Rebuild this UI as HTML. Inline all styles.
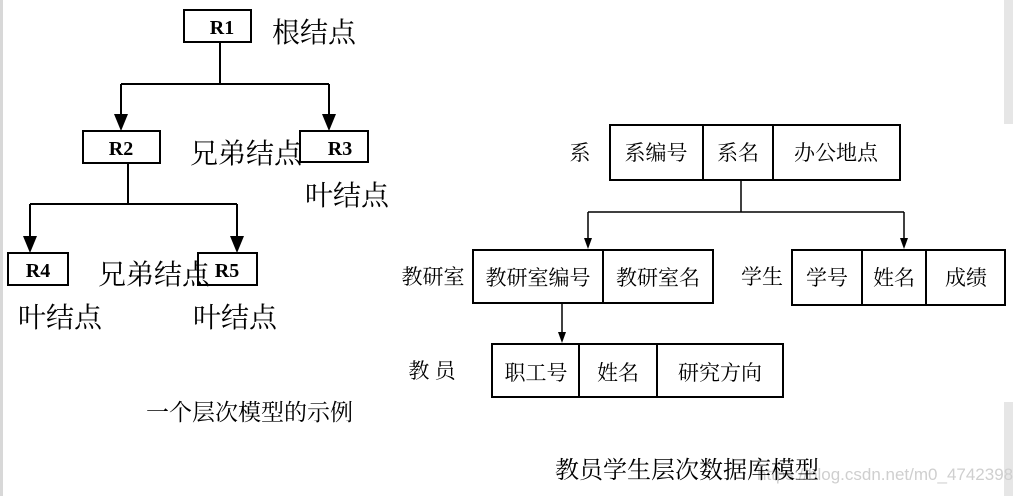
<!DOCTYPE html>
<html><head><meta charset="utf-8"><style>
html,body{margin:0;padding:0;background:#fff;}
svg{display:block;}
text{font-family:"Liberation Serif","Noto Serif CJK SC",serif;fill:#000;}
</style></head><body>
<svg width="1013" height="496" viewBox="0 0 1013 496" xmlns="http://www.w3.org/2000/svg">
<rect x="0" y="0" width="3" height="496" fill="#d8d8d8"/>
<rect x="1004" y="0" width="9" height="124" fill="#e6e6e6"/>
<rect x="1004" y="402" width="9" height="94" fill="#e6e6e6"/>
<defs>
<marker id="a" viewBox="0 0 10 10" refX="5" refY="10" markerWidth="14" markerHeight="16" markerUnits="userSpaceOnUse" orient="auto-start-reverse"><path d="M0,0 L10,0 L5,10 Z" fill="#000"/></marker>
</defs>
<!-- left tree -->
<g stroke="#000" fill="none" stroke-width="2">
<rect x="184" y="10" width="67" height="32"/>
<rect x="83" y="131" width="77" height="32"/>
<rect x="300" y="131" width="68" height="31"/>
<rect x="8" y="253" width="60" height="32"/>
<rect x="198" y="253" width="59" height="32"/>
<path d="M220,42 V84 M121,84 H329"/>
<path d="M121,84 V115 M329,84 V115"/>
<path d="M128,163 V204 M30,204 H237"/>
<path d="M30,204 V237 M237,204 V237"/>
</g>
<g fill="#000">
<path d="M114,114 L128,114 L121,131 Z"/><path d="M322,114 L336,114 L329,131 Z"/>
<path d="M23,236 L37,236 L30,253 Z"/><path d="M230,236 L244,236 L237,253 Z"/>
</g>
<g font-size="20" font-weight="bold" text-anchor="middle">
<text x="222" y="34">R1</text><text x="121" y="155">R2</text><text x="340" y="155">R3</text>
<text x="38" y="277">R4</text><text x="227" y="277">R5</text>
</g>
<g font-size="28">
<text x="272" y="42">根结点</text>
<text x="190" y="163">兄弟结点</text>
<text x="305" y="205">叶结点</text>
<text x="98" y="284">兄弟结点</text>
<text x="18" y="327">叶结点</text>
<text x="193" y="327">叶结点</text>
</g>
<text x="146" y="420" font-size="23">一个层次模型的示例</text>
<!-- right model -->
<g stroke="#000" fill="none" stroke-width="2">
<rect x="610" y="125" width="290" height="55"/>
<path d="M703,125 V180 M773,125 V180"/>
<rect x="473" y="250" width="240" height="53"/>
<path d="M603,250 V303"/>
<rect x="792" y="250" width="213" height="55"/>
<path d="M862,250 V305 M926,250 V305"/>
<rect x="492" y="344" width="291" height="53"/>
<path d="M579,344 V397 M657,344 V397"/>
</g>
<g stroke="#000" fill="none" stroke-width="1.5">
<path d="M741,180 V212 M588,212 H904 M588,212 V240 M904,212 V240 M562,303 V334"/>
</g>
<g fill="#000">
<path d="M584,238 L592,238 L588,249 Z"/><path d="M900,238 L908,238 L904,249 Z"/>
<path d="M558,332 L566,332 L562,343 Z"/>
</g>
<g font-size="21" text-anchor="middle">
<text x="580" y="160">系</text>
<text x="656" y="160">系编号</text><text x="738" y="160">系名</text><text x="836" y="160">办公地点</text>
<text x="433" y="284">教研室</text>
<text x="538" y="285">教研室编号</text><text x="658" y="285">教研室名</text>
<text x="762" y="284">学生</text>
<text x="827" y="285">学号</text><text x="894" y="285">姓名</text><text x="966" y="285">成绩</text>
<text x="432" y="378">教  员</text>
<text x="536" y="380">职工号</text><text x="618" y="380">姓名</text><text x="720" y="380">研究方向</text>
</g>
<text x="757" y="480" font-size="17" fill="#cfcfcf" style="fill:#cfcfcf;font-family:'Liberation Sans',sans-serif">https://blog.csdn.net/m0_47423988</text>
<text x="555" y="478" font-size="24">教员学生层次数据库模型</text>
</svg>
</body></html>
